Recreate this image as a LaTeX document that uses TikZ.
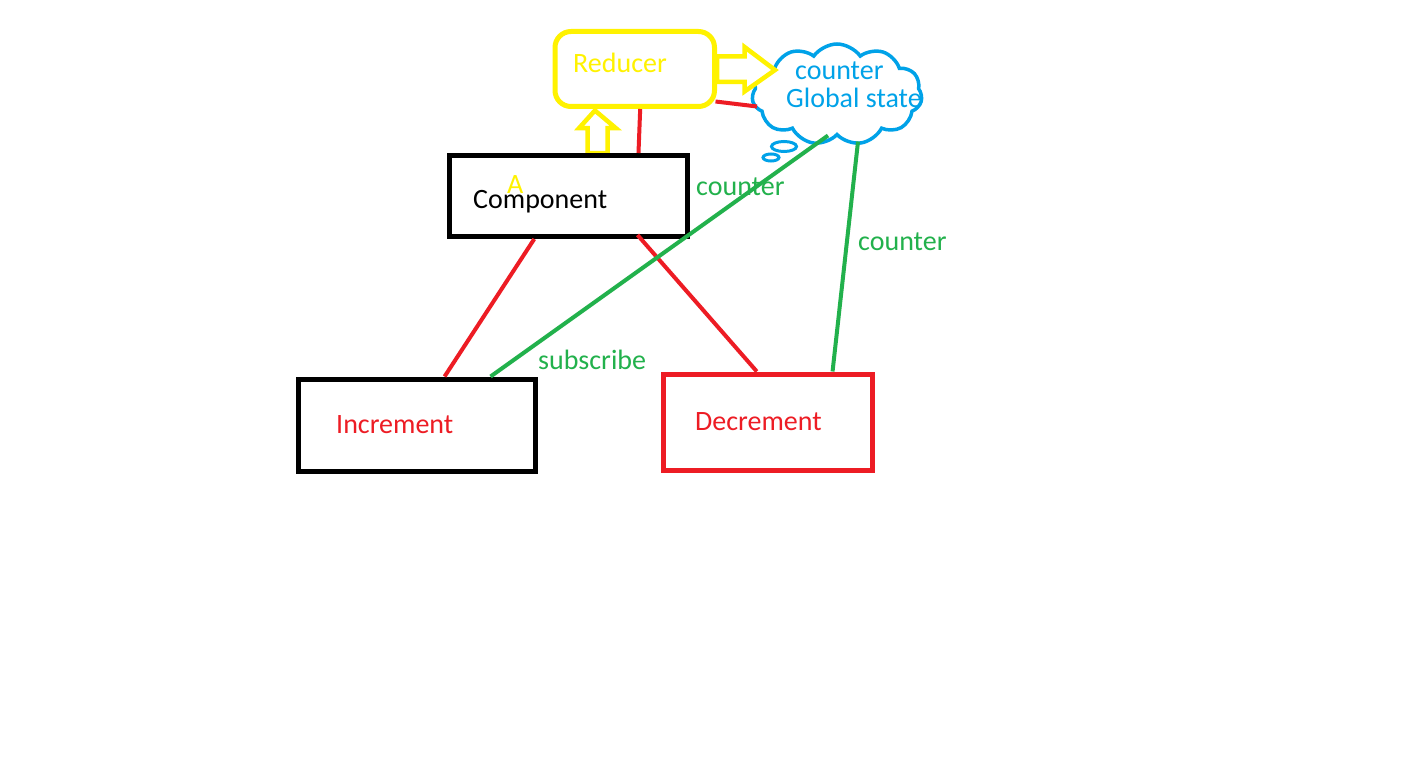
\documentclass[tikz,border=0pt]{standalone}
\usepackage{fontspec}
\setmainfont{Carlito}
\usetikzlibrary{shapes.symbols,calc,backgrounds}
\definecolor{pred}{RGB}{237,28,36}
\definecolor{pyel}{RGB}{255,242,0}
\definecolor{pblue}{RGB}{0,162,232}
\definecolor{pgreen}{RGB}{34,177,76}
\begin{document}
\begin{tikzpicture}[x=1pt,y=-1pt,
  lbl/.style={anchor=base west, inner sep=0pt, font=\fontsize{28}{30}\selectfont},
  blackbox/.style={draw=black, line width=5pt, inner sep=0pt},
  redbox/.style={draw=pred, line width=5pt, inner sep=0pt},
  yelbox/.style={draw=pyel, line width=5pt, rounded corners=16pt, inner sep=0pt},
  stateshape/.style={cloud, draw=pblue, line width=3.5pt, cloud puffs=11, cloud puff arc=110, aspect=1.7, inner sep=0pt},
  redline/.style={draw=pred, line width=4pt},
  greenline/.style={draw=pgreen, line width=4pt},
  hollow/.style={draw=pyel, line width=4.5pt, fill=white, line join=miter},
  bubble/.style={draw=pblue, line width=3pt}]
\useasboundingbox (0,0) rectangle (1412,765);

% boxes
\node[blackbox, minimum width=238pt, minimum height=81pt] (comp) at (568.5,196) {};
\node[blackbox, minimum width=237pt, minimum height=92pt] (inc) at (416.5,425) {};
\node[redbox, minimum width=209pt, minimum height=96pt] (dec) at (767.5,422) {};
\node[yelbox, minimum width=159.5pt, minimum height=75pt] (red) at (634.75,69) {};

% hollow yellow arrows and the cloud (behind the boxes)
\coordinate (ua0) at ($(comp.north west)!0.62!(comp.north east)$);
\coordinate (ua1) at ($(red.south west)!0.258!(red.south east)+(0,1.5)$);
\coordinate (ra0) at (red.east);
\coordinate (ra1) at ($(red.east)+(58,1)$);
\begin{scope}[on background layer]
\fill[white] (0,0) rectangle (1412,765);
\node[stateshape, minimum width=170pt, minimum height=101pt] (gs) at (837,94.5) {};
\draw[bubble] ($(gs.center)+(-53,52)$) ellipse [x radius=12.5, y radius=5];
\draw[bubble] ($(gs.center)+(-66,63)$) ellipse [x radius=8, y radius=3.5];
\draw[hollow] ($(ua0)+(-10,0)$) -- ++(0,-25) -- ++(-8.5,0) -- (ua1)
   -- ($(ua0)+(18,-25)$) -- ++(-8,0) -- ($(ua0)+(10,0)$) -- cycle;
\draw[hollow] ($(ra0)+(0,-12.5)$) -- ++(27.5,0) -- ++(0,-9.5) -- (ra1)
   -- ($(ra0)+(27.5,22.5)$) -- ++(0,-9.5) -- ($(ra0)+(0,13)$) -- cycle;
\end{scope}

% red connectors
\coordinate (gsl) at ($(gs.center)+(-80,12)$);
\draw[redline] ($(red.south west)!0.533!(red.south east)$) -- ($(comp.north west)!0.788!(comp.north east)$);
\draw[redline] ($(red.south east)+(-1.5,-7.5)$) -- (gsl);
\draw[redline] ($(comp.south west)!0.359!(comp.south east)$) -- ($(inc.north west)!0.616!(inc.north east)$);
\draw[redline] ($(comp.south west)!0.784!(comp.south east)+(0,-4)$) -- ($(dec.north west)!0.45!(dec.north east)$);

% green connectors
\coordinate (gs1) at ($(gs.center)+(-9,41)$);
\coordinate (gs2) at ($(gs.center)+(21,47)$);
\draw[greenline] (gs1) -- ($(inc.north west)!0.806!(inc.north east)$);
\draw[greenline] (gs2) -- ($(dec.north west)!0.804!(dec.north east)$);

% texts
\node[lbl, text=pyel] (tred) at (573,73) {Reducer};
\node[lbl, text=pblue] (tgs1) at (795,80) {counter};
\node[lbl, text=pblue] (tgs2) at (786,107) {Global state};
\node[lbl] (tcomp) at (473,208) {Component};
\node[lbl, text=pyel] (ta) at (507,193) {A};
\node[lbl, text=pgreen] (tc1) at (696,195) {counter};
\node[lbl, text=pgreen] (tc2) at (858,250) {counter};
\node[lbl, text=pgreen] (tsub) at (538,369) {subscribe};
\node[lbl, text=pred] (tinc) at (336,433) {Increment};
\node[lbl, text=pred] (tdec) at (695,430) {Decrement};
\end{tikzpicture}
\end{document}
